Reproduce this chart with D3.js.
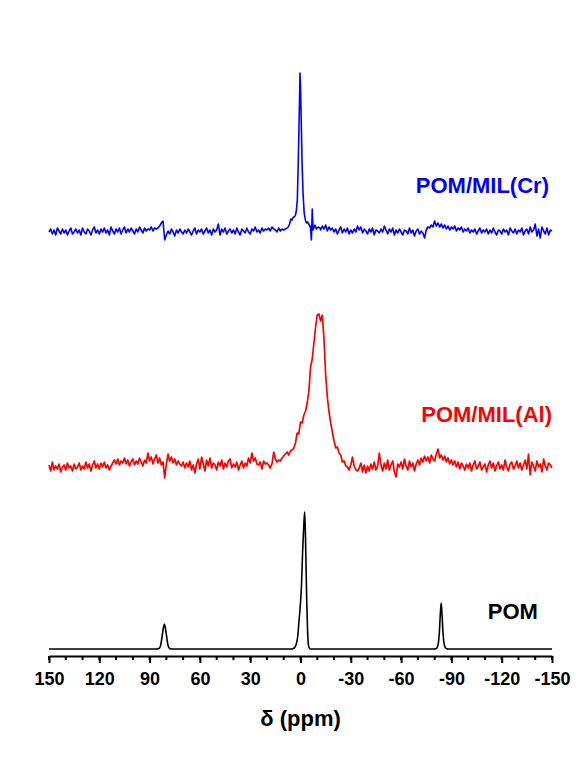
<!DOCTYPE html>
<html lang="en">
<head>
<meta charset="UTF-8">
<title>Stacked NMR spectra: POM, POM/MIL(Al), POM/MIL(Cr)</title>
<script src="https://d3js.org/d3.v7.min.js"></script>
<style>
  body { margin: 0; background: #fff; }
  svg { display: block; font-family: "Liberation Sans", Arial, sans-serif; font-weight: bold; }
</style>
</head>
<body>
<svg width="584" height="761"></svg>
<script>
// spectra are sampled every 1 ppm from 150 down to -150, values in intensity units above baseline
const gridStart = 150;
const gridStep = -1;

const samples = ["POM", "POM/MIL(Al)", "POM/MIL(Cr)"];
const offsets = [7, 189, 424];
const colors = ["#000000", "#ff0000", "#0000ff"];

const xTicks = [150, 120, 90, 60, 30, 0, -30, -60, -90, -120, -150];
const xMinorTicks = d3.range(150, -151, -10);

// POM: clean spectrum, read as [ppm, intensity] points
const pomPoints = [
  [150, 0], [86, 0], [84.5, 0.5], [83.5, 3], [82.6, 12], [81.8, 21], [81.2, 25], [80.6, 21],
  [79.8, 12], [78.9, 3], [78, 0.5], [76.5, 0],
  [5.6, 0], [4.2, 0.5], [3.3, 2], [2.5, 5], [1.7, 12], [0.8, 30], [0, 46], [-0.6, 64],
  [-1.3, 99], [-2, 125], [-2.5, 137], [-3, 110], [-3.7, 49], [-4.2, 20], [-4.6, 6],
  [-5.1, 1.5], [-5.8, 0],
  [-79.5, 0], [-81, 0.5], [-82, 4], [-82.8, 16], [-83.4, 35], [-83.9, 46], [-84.4, 35],
  [-85, 16], [-85.8, 4], [-86.8, 0.5], [-88.3, 0], [-150, 0]
];

// POM/MIL(Al), 150 .. -150 ppm
const alValues = [
  2, -4, 5, -3, 1, -2, 3, -5, 0, 2,
  -3, 4, -1, 1, -4, 3, -2, 0, 4, -3,
  1, -2, 5, -1, 3, -4, 2, 6, -1, 3,
  -2, 4, 0, 5, -1, 2, -3, 1, 4, 7,
  3, 8, 2, 6, 4, 9, 3, 7, 1, 5,
  8, 2, 6, 3, 9, 5, 1, 7, 4, 14,
  6, 10, 3, 8, 12, 4, 9, 2, 5, -11,
  3, 13, 6, 10, 4, 8, 2, 6, 3, 1,
  5, -1, 4, 0, 6, -3, 2, -6, 3, 8,
  -2, 10, 3, -4, 7, 1, 9, -1, 4, 2,
  -3, 5, 1, 7, -2, 4, 0, 6, 8, -1,
  3, 0, 5, -3, 2, 6, -1, 4, 1, 9,
  4, 14, 6, 9, 3, 2, 5, -2, 6, 3,
  4, 2, -1, 3, 15, 8, 5, 7, 6, 9,
  11, 13, 15, 12, 16, 17, 19, 24, 34, 33,
  45, 44, 52, 56, 64, 76, 100, 108, 124, 140,
  152, 153, 146, 152, 128, 92, 70, 55, 44, 35,
  26, 19, 20, 14, 12, 5, 6, 1, 0, -3,
  2, 10, 1, -3, -4, -1, 4, -5, 2, -6,
  1, -4, 3, -2, 5, -3, 1, 14, 2, -4,
  4, -2, 7, -3, 2, 6, -5, -10, 3, 0,
  5, -2, 8, 1, -3, 6, 0, 4, -4, 3,
  7, 2, 9, 5, 11, 6, 10, 4, 12, 8,
  6, 13, 18, 9, 12, 7, 11, 5, 9, 3,
  7, 2, 6, 0, 5, -2, 4, 1, -3, 3,
  -1, 4, -4, 2, 6, -2, 1, 5, -3, 0,
  3, -5, 2, 6, -1, 4, -4, 1, 5, -2,
  2, -3, 7, 0, -4, 3, 5, -2, 1, 6,
  -1, 4, -3, 2, 7, -2, 13, -8, 5, 1,
  -4, 6, 0, 3, -5, 8, 1, -3, 4, 2,
  -1
];

// POM/MIL(Cr), 150 .. -150 ppm (narrow peak near 0 ppm given separately below)
const crValues = [
  0, 3, -2, 2, -3, 4, 1, -2, 3, -1,
  2, -3, 1, 4, -2, 0, 3, -1, 2, -3,
  4, 0, -2, 3, 1, -3, 2, 5, -1, 2,
  -2, 3, 0, 4, -1, 2, -3, 5, 1, -2,
  3, 0, 4, -2, 2, 5, -1, 3, 0, 4,
  1, -2, 3, 0, 5, 2, -1, 4, 1, 3,
  2, 5, 1, 4, 3, 4, 6, 9, 11, -8,
  -3, 1, -2, 3, 0, -4, 2, -1, 3, 0,
  -2, 2, -1, 3, 0, -3, 1, 4, -2, 2,
  0, 3, -2, 1, 4, -1, 2, -3, 3, 0,
  2, 8, -3, 3, 0, 4, -2, 1, 3, -1,
  2, -2, 4, 0, -3, 3, 1, -1, 4, 0,
  -2, 3, 1, 5, 0, 2, -1, 4, 1, 3,
  2, 4, 1, 5, 3, 2, 0, 4, 1, 3,
  2, 3, 4, 5, 10, 12, 15, 17, 25, 90,
  140, 80, 30, 12, 9, 7, -8, 20, 5, 3,
  5, 4, 2, 6, 3, 7, 1, 5, 2, 4,
  0, 3, -2, 2, 5, -1, 3, 0, 4, -2,
  2, -1, 3, 0, 6, 2, 5, -1, 3, 1,
  -2, 3, 0, 4, -3, 2, 1, -1, 3, 0,
  6, 2, -2, 3, 0, 4, -3, 2, -1, 3,
  0, -3, 2, 1, -2, 4, -1, 2, -4, 1,
  3, -2, 1, -1, -6, 2, 5, 4, 7, 5,
  11, 6, 9, 5, 8, 4, 7, 3, 6, 2,
  5, 3, 6, 1, 4, 2, 5, 0, 3, 1,
  4, -1, 2, 0, 3, -2, 1, 4, -1, 2,
  0, 3, -2, 2, -1, 4, 0, -3, 2, 1,
  -2, 3, 0, 2, -3, 4, 1, -1, 3, -2,
  2, 0, 4, -3, 1, 3, -2, 5, 0, 2,
  8, -4, 3, -6, 5, 1, -2, 4, -3, 2,
  1
];

const crPeak = [
  [8, 4], [7.3, 5], [6.5, 8], [5.8, 13], [5, 12], [4.3, 15], [3.6, 15], [3, 17], [2.4, 22],
  [1.9, 32], [1.3, 72], [0.7, 122], [0.3, 159], [-0.1, 140], [-0.3, 122], [-0.9, 72],
  [-1.5, 39], [-2.2, 19], [-2.9, 12], [-3.6, 9], [-4.4, 10], [-5.2, 7], [-5.9, 5],
  [-6.5, -8], [-7, 23], [-7.5, 2], [-8.6, 7], [-9.5, 3], [-10.5, 5], [-11.6, 4]
];

// where the sample names sit, in ppm / intensity units
const labelAt = [[-141.6, 37], [-150, 234], [-148.2, 463]];

const svg = d3.select("svg");

const x = d3.scaleLinear().domain([150, -150]).range([49, 552]);
const y = d3.scaleLinear().domain([0, 600]).range([656, 56]);

function gridSeries(values, peak) {
  let pts = values.map((v, i) => [gridStart + i * gridStep, v]);
  if (peak) {
    const hi = d3.max(peak, d => d[0]);
    const lo = d3.min(peak, d => d[0]);
    pts = pts.filter(d => d[0] > hi || d[0] < lo).concat(peak);
    pts.sort((a, b) => b[0] - a[0]);
  }
  return pts;
}

const spectra = [
  { pts: pomPoints, curve: d3.curveMonotoneX, width: 1.6 },
  { pts: gridSeries(alValues), curve: d3.curveLinear, width: 1.7 },
  { pts: gridSeries(crValues, crPeak), curve: d3.curveLinear, width: 1.6 }
];

spectra.forEach((s, k) => {
  const line = d3.line()
    .x(d => x(d[0]))
    .y(d => y(d[1] + offsets[k]))
    .curve(s.curve);

  svg.append("path")
    .datum(s.pts)
    .attr("fill", "none")
    .attr("stroke", colors[k])
    .attr("stroke-width", s.width)
    .attr("stroke-linejoin", "round")
    .attr("d", line);

  svg.append("text")
    .attr("x", x(labelAt[k][0]))
    .attr("y", y(labelAt[k][1]))
    .attr("text-anchor", "end")
    .attr("font-size", 22)
    .attr("fill", colors[k])
    .text(samples[k]);
});

// bottom axis
const axisY = y(0);

svg.append("g")
  .attr("transform", `translate(0,${axisY})`)
  .selectAll("line")
  .data(xMinorTicks)
  .join("line")
  .attr("x1", d => x(d)).attr("x2", d => x(d))
  .attr("y1", 0).attr("y2", 4)
  .attr("stroke", "#000")
  .attr("stroke-width", 2);

const axis = svg.append("g")
  .attr("transform", `translate(0,${axisY})`)
  .call(d3.axisBottom(x).tickValues(xTicks).tickSize(7).tickSizeOuter(0).tickFormat(d => String(d)));

axis.select(".domain").attr("stroke-width", 2);
axis.selectAll(".tick line").attr("stroke-width", 2);
axis.selectAll(".tick text")
  .attr("font-size", 18)
  .attr("font-family", "Liberation Sans, Arial, sans-serif")
  .attr("font-weight", "bold")
  .attr("fill", "#000")
  .attr("y", 29)
  .attr("dy", 0);

svg.append("text")
  .attr("x", (x(150) + x(-150)) / 2)
  .attr("y", axisY + 70)
  .attr("text-anchor", "middle")
  .attr("font-size", 22)
  .text("δ (ppm)");
</script>
</body>
</html>
